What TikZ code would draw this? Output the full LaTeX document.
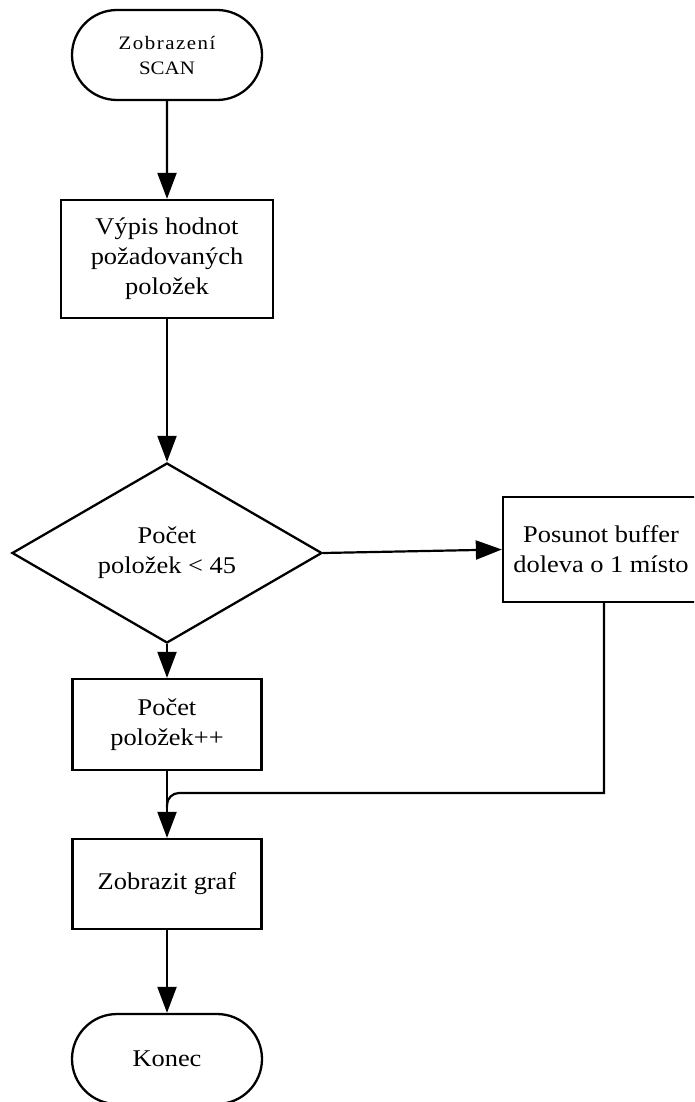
\documentclass[tikz,border=0pt]{standalone}
\usepackage{fontspec}
\setmainfont{Liberation Serif}[FakeStretch=1.1]
\usetikzlibrary{shapes.geometric,shapes.misc,arrows.meta}

\begin{document}
\begin{tikzpicture}[x=1pt,y=-1pt,
  base/.style={draw, line width=2.3pt, align=center, inner sep=0pt,
    font=\fontsize{24}{30}\selectfont},
  procbox/.style={base, rectangle},
  term/.style={base, rounded rectangle, minimum width=190pt, minimum height=90pt},
  decision/.style={base, diamond, aspect=1.72, minimum width=310pt, minimum height=180pt},
  flow/.style={-{Triangle[length=26pt,width=19pt]}, line width=2.2pt},
  link/.style={line width=2.2pt},
]
\useasboundingbox (0,0) rectangle (694,1102);
\clip (0,0) rectangle (694,1102);

% nodes of the flowchart
\node[term, font=\fontsize{19}{25}\selectfont] (start) at (167,55)
  {{\addfontfeatures{LetterSpace=8}Zobrazení}\\SCAN};
\node[procbox, minimum width=212pt, minimum height=118pt] (list) at (167,259)
  {Výpis hodnot\\požadovaných\\položek};
\node[decision] (cnt) at (167,553) {Počet\\položek < 45};
\node[procbox, minimum width=196pt, minimum height=105pt] (shift) at (601,549.5)
  {Posunot buffer\\doleva o 1 místo};
\node[procbox, minimum width=189pt, minimum height=91pt] (inc) at (167,724.5)
  {Počet\\položek++};
\node[procbox, minimum width=189pt, minimum height=90pt] (graph) at (167,884)
  {Zobrazit graf};
\node[term] (end) at (167,1059) {Konec};

% connectors
\draw[flow] (start) -- (list);
\draw[flow] (list) -- (cnt);
\draw[flow] (cnt) -- (inc);
\draw[flow] (cnt.east) -- (shift.west);
\draw[flow] (inc) -- (graph);
\draw[flow] (graph) -- (end);

% return line from the shift box joining the main flow
\coordinate (merge) at (167,793);
\draw[link] ([xshift=3pt]shift.south) -- ([xshift=3pt]shift.south |- merge)
  [rounded corners=12pt] -- (merge) -- ([yshift=-14pt]merge);
\end{tikzpicture}
\end{document}
